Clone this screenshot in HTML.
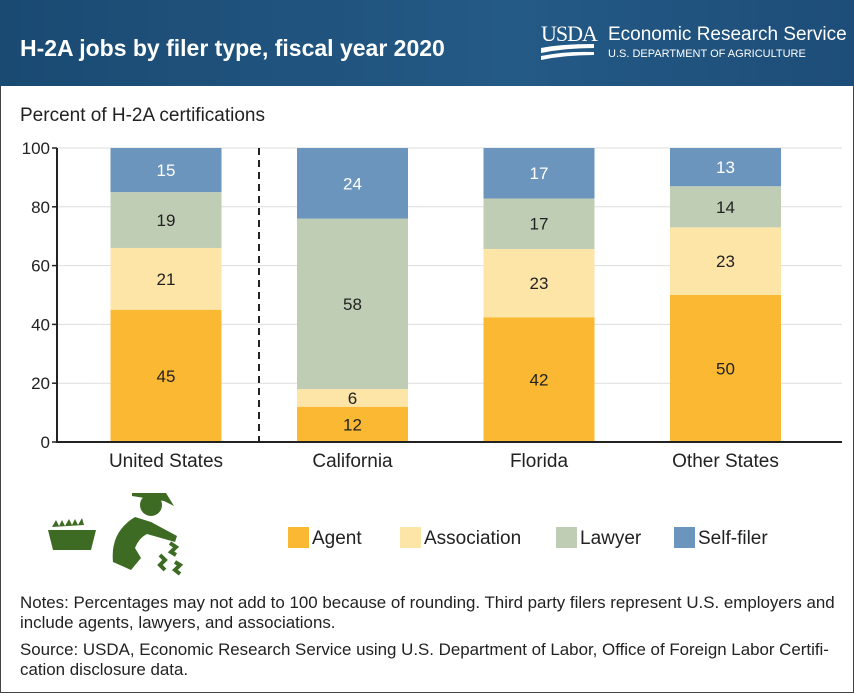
<!DOCTYPE html>
<html><head><meta charset="utf-8"><style>
body{margin:0;width:854px;height:693px;overflow:hidden;background:#fff;font-family:"Liberation Sans",sans-serif}
#frame{position:absolute;left:0;top:0;width:852px;height:691px;border:1px solid #444}
#hdr{position:absolute;left:0;top:0;width:854px;height:86px;background:linear-gradient(90deg,#1a4a72,#245a86 60%,#1d4d78)}
</style></head><body>
<div id="frame"></div>
<div id="hdr"></div>
<svg width="854" height="693" style="position:absolute;left:0;top:0">
<text x="20" y="56" fill="#fff" font-size="23" font-weight="bold">H-2A jobs by filer type, fiscal year 2020</text>
<text x="541" y="41" fill="#fff" font-size="22" font-family="Liberation Serif" style="letter-spacing:-1px">USDA</text>
<path d="M541 48 Q560 44 594 44 L594 48 Q565 48 541 53Z M541 56 Q565 51 594 52 L594 55 Q565 55 541 60Z" fill="#fff"/>
<text x="608" y="40" fill="#fff" font-size="19">Economic Research Service</text>
<text x="608" y="57" fill="#fff" font-size="11">U.S. DEPARTMENT OF AGRICULTURE</text>
<text x="20" y="121" fill="#222" font-size="19">Percent of H-2A certifications</text>
<g id="plot"></g>
<g fill="#3e6b23">
<path d="M48 530 h48 l-5 20 h-38z"/>
<path d="M52 527 l4-7 l3 6 l3-6 l3 6 l4-7 l3 6 l3-6 l3 6 l4-7 l2 7z"/>
<circle cx="151" cy="505" r="11"/>
<path d="M132 493 h34 l8 13 l-10-5 l-32-5z"/>
<path d="M135 517 q-25 15-22 45 l18 8 l10-12 l-6-10 q4-10 12-14 l28 8 l2-6 l-26-14z"/>
<path d="M160 555 l5 5 -5 5 5 5M170 543 l6 4 -5 5 5 3M175 562 l5 3 -5 5 5 4" stroke="#3e6b23" stroke-width="4" fill="none"/>
</g>
<g id="legend"></g>
<text x="20" y="608" fill="#222" font-size="16.9">Notes: Percentages may not add to 100 because of rounding. Third party filers represent U.S. employers and</text>
<text x="20" y="628" fill="#222" font-size="16.9">include agents, lawyers, and associations.</text>
<text x="20" y="655" fill="#222" font-size="16.9">Source: USDA, Economic Research Service using U.S. Department of Labor, Office of Foreign Labor Certifi-</text>
<text x="20" y="675" fill="#222" font-size="16.9">cation disclosure data.</text>
</svg>
<script>
const categories=["United States","California","Florida","Other States"];
const seriesNames=["Agent","Association","Lawyer","Self-filer"];
const agent=[45,12,42,50];
const association=[21,6,23,23];
const lawyer=[19,58,17,14];
const selfFiler=[15,24,17,13];
const yTicks=[0,20,40,60,80,100];
const colors=["#fbb832","#fde5a8","#bfcdb5","#6b95bd"];
const NS="http://www.w3.org/2000/svg";
const plot=document.getElementById('plot');
const y0=442,y100=148,xL=57,xR=842;
const yS=v=>y0-(y0-y100)*v/100;
const xC=i=>166+i*186.5;
const bw=111;
function mk(t,a,p){const e=document.createElementNS(NS,t);for(const k in a)e.setAttribute(k,a[k]);(p||plot).appendChild(e);return e;}
yTicks.forEach(v=>{
 const g=mk('line',{x1:xL,x2:xR,y1:yS(v),y2:yS(v),stroke:'#ddd','stroke-width':1});
 
 
 const tk=mk('line',{x1:xL-5,x2:xL,y1:yS(v),y2:yS(v),stroke:'#222','stroke-width':1.5});
 
 
 const t=mk('text',{x:xL-7,y:yS(v)+6,'text-anchor':'end','font-size':17,fill:'#222'});
 t.textContent=v;
 
 
});
const series=[agent,association,lawyer,selfFiler];
categories.forEach((c,i)=>{
 const total=series.reduce((a,s)=>a+s[i],0);
 const k=100/total;
 let cum=0;
 series.forEach((s,j)=>{
  const v=s[i]*k;
  const r=mk('rect',{x:xC(i)-bw/2,y:yS(cum+v),width:bw,height:yS(cum)-yS(cum+v),fill:colors[j]});
  
  
  const t=mk('text',{x:xC(i),y:(yS(cum)+yS(cum+v))/2+6,'text-anchor':'middle','font-size':17,fill:j==3?'#fff':'#222'});
  t.textContent=s[i];
  
  
  cum+=v;
 });
 const t=mk('text',{x:xC(i),y:467,'text-anchor':'middle','font-size':19,fill:'#222'});
 t.textContent=c;
 
 
});
const d=mk('line',{x1:259,x2:259,y1:y100,y2:y0,stroke:'#222','stroke-width':2,'stroke-dasharray':'7,5'});


const ax=mk('line',{x1:xL,x2:xL,y1:y100,y2:y0+1,stroke:'#222','stroke-width':2});


const bx=mk('line',{x1:xL,x2:xR,y1:y0,y2:y0,stroke:'#222','stroke-width':2});


const lg=document.getElementById('legend');
const lx=[288,400,556,674];
seriesNames.forEach((n,j)=>{
 const r=mk('rect',{x:lx[j],y:527,width:21,height:21,fill:colors[j]},lg);
 
 
 const t=mk('text',{x:lx[j]+24,y:544,'font-size':19,fill:'#222'},lg);
 t.textContent=n;
 
 
});
</script>
</body></html>
